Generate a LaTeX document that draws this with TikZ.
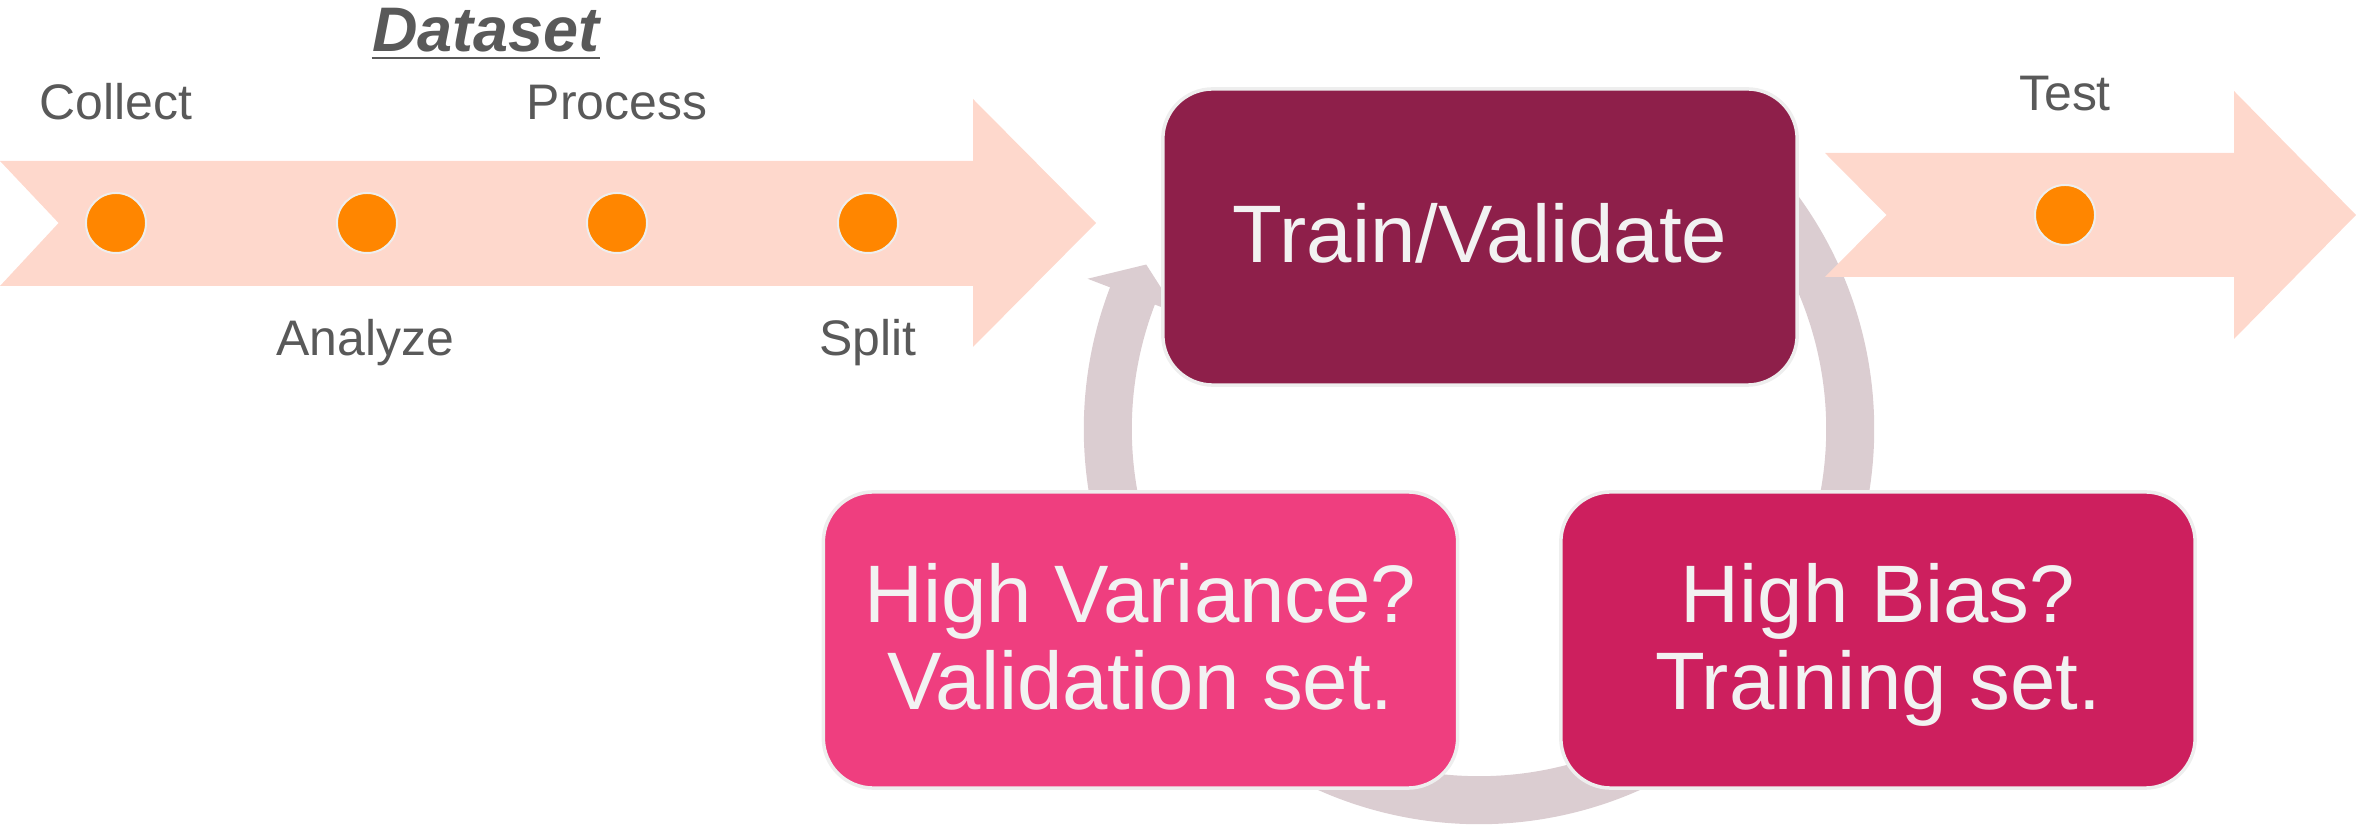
\documentclass[tikz,border=0pt]{standalone}
\usepackage{fontspec}
\setmainfont{Liberation Sans}
\definecolor{peach}{RGB}{254,216,204}
\definecolor{dotc}{RGB}{255,134,0}
\definecolor{rimc}{RGB}{238,238,238}
\definecolor{ringc}{RGB}{219,205,209}
\definecolor{trainc}{RGB}{142,31,74}
\definecolor{varc}{RGB}{239,62,127}
\definecolor{biasc}{RGB}{205,31,94}
\definecolor{labelc}{RGB}{89,89,89}
\definecolor{boxtextc}{RGB}{242,242,242}
\begin{document}
\begin{tikzpicture}[x=0.01cm,y=-0.01cm,
  lbl/.style={inner sep=0pt, anchor=base, text=labelc, font=\fontsize{14.2pt}{16pt}\selectfont},
  dot/.style={circle, fill=dotc, draw=rimc, line width=0.02cm, minimum size=0.6cm, inner sep=0pt},
  box/.style={rectangle, rounded corners=0.5cm, draw=rimc, line width=0.035cm,
              minimum width=6.34cm, minimum height=2.96cm, inner sep=0pt},
  boxtxt/.style={inner sep=0pt, align=center, anchor=north, text=boxtextc,
                 font=\fontsize{23.2pt}{24.75pt}\selectfont},
  ring/.style={draw=ringc, line width=0.48cm},
]
\useasboundingbox (0,0) rectangle (2356,828);

% centre of the train / diagnose cycle
\coordinate (cyc) at (1479,429);

% cycle arcs (ends tucked under the boxes)
\draw[ring] ([shift={(45:3.71cm)}]cyc) arc[start angle=45, end angle=-20, radius=3.71cm];
\draw[ring] ([shift={(-60:3.71cm)}]cyc) arc[start angle=-60, end angle=-120, radius=3.71cm];
\draw[ring] ([shift={(200:3.71cm)}]cyc) arc[start angle=200, end angle=158.5, radius=3.71cm];
\fill[ringc] ([shift={(159:3.23cm)}]cyc) -- ([shift={(159:4.19cm)}]cyc)
             -- ([shift={(153.7:3.71cm)}]cyc) -- cycle;

% dataset pipeline arrow
\fill[peach] (0,161) -- (973,161) -- (973,99) -- (1096,223) -- (973,347)
             -- (973,286) -- (0,286) -- (58.6,223) -- cycle;
% test arrow
\fill[peach] (1825,153) -- (2234,153) -- (2234,91) -- (2356,215) -- (2234,339)
             -- (2234,277) -- (1825,277) -- (1886.5,215) -- cycle;

% pipeline steps
\node[dot] (d1) at (116,223) {};
\node[dot] (d2) at (367,223) {};
\node[dot] (d3) at (617,223) {};
\node[dot] (d4) at (868,223) {};
\node[dot] (dt) at (2065,215) {};

\node[lbl] (collect) at (116,120) {Collect};
\node[lbl] (process) at (617,120) {Process};
\node[lbl] (analyze) at (365,356) {Analyze};
\node[lbl] (split)   at (868,356) {Split};
\node[lbl] (test)    at (2065,111) {Test};

\node[lbl, font=\bfseries\itshape\fontsize{17.9pt}{20pt}\selectfont] (dataset) at (486,52) {Dataset};
\draw[labelc, line width=0.025cm] ([yshift=-0.06cm]dataset.base west) -- ([yshift=-0.06cm]dataset.base east);

% cycle boxes
\node[box, fill=trainc] (train) at (1480,237) {};
\node[box, fill=varc]   (var)   at (1140.5,640) {};
\node[box, fill=biasc]  (bias)  at (1878,640) {};

\node[boxtxt] (traint) at (1480,203) {Train/Validate};
\node[boxtxt] (vart)   at (1140.5,563) {High Variance?\\Validation set.};
\node[boxtxt] (biast)  at (1878,563) {High Bias?\\Training set.};
\end{tikzpicture}
\end{document}
